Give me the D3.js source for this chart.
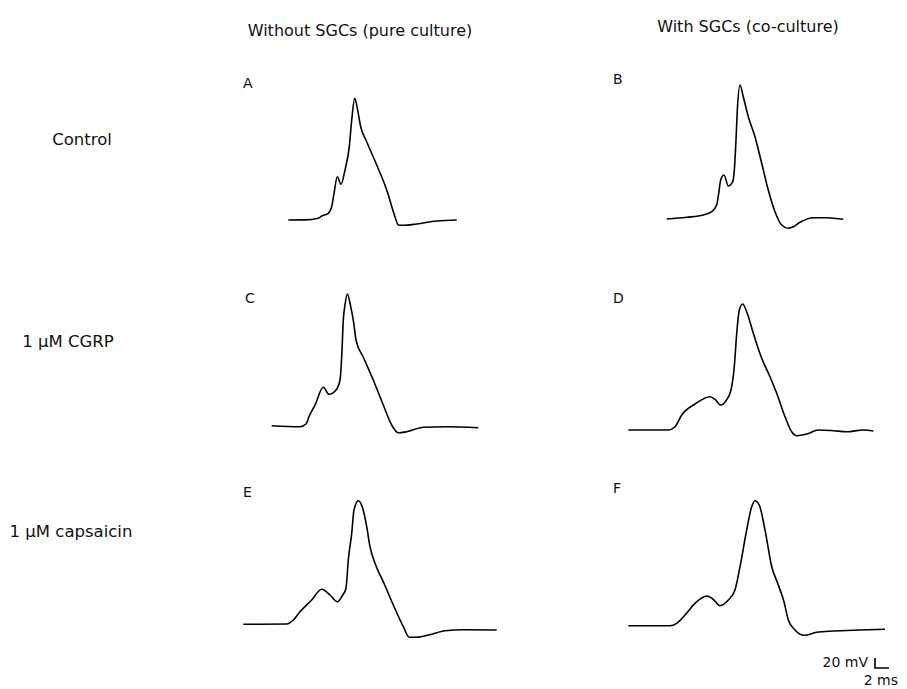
<!DOCTYPE html>
<html>
<head>
<meta charset="utf-8">
<script src="https://cdn.jsdelivr.net/npm/d3@7/dist/d3.min.js"></script>
<style>
  html, body { margin: 0; padding: 0; background: #fff; }
  svg text { font-family: "DejaVu Sans", "Noto Sans", sans-serif; fill: #111; }
</style>
</head>
<body>
<svg id="chart" width="907" height="689"></svg>
<script>
// Action potential traces: [time (ms), deflection from rest (mV)]
const traceA = [[0,0],[2.4,0.2],[4.29,3.4],[4.77,8],[5.71,13.4],[6.2,26.6],[6.53,53.4],[7.0,86.6],[7.53,71.4],[8.1,100],[8.71,146.6],[9.06,200],[9.49,243.4],[9.86,223.4],[10.34,186.6],[11.2,156.6],[12.63,110],[14.06,60],[15.24,6.6],[15.71,-10],[16.43,-10.6],[18.34,-8],[21.2,-2],[24.06,0]];
const traceB = [[0,0],[2.86,3.4],[5.23,8],[6.43,14.6],[7.14,28],[7.43,51.4],[7.71,78],[8.19,88],[8.8,66],[9.43,74.6],[9.66,98],[9.9,158],[10.09,218],[10.47,268],[10.94,244.6],[11.66,204.6],[12.61,164.6],[13.57,111.4],[14.51,58],[15.47,14.6],[16.43,-12],[17.37,-18.6],[18.09,-15.4],[19.04,-6.6],[20.94,2.6],[22.86,2.6],[25.23,-0.6]];
const traceC = [[0,0.6],[4.04,-1.4],[4.9,4],[5.37,20],[6.19,42],[7.37,77.4],[8.19,63.4],[9.19,72],[9.76,92],[10.0,138.6],[10.23,212],[10.47,242],[10.8,264],[11.29,238.6],[11.76,202],[12.04,172],[13.09,137.4],[14.51,92],[15.94,42],[17.14,2],[18.09,-13.4],[19.29,-11.4],[21.66,-2.6],[25.0,-1.4],[29.51,-3.4]];
const traceD = [[0,0],[5.71,0],[6.67,6.6],[7.63,30],[9.53,52],[11.67,66.6],[12.39,61.4],[13.2,50],[13.96,58.6],[14.67,80],[15.14,126.6],[15.49,193.4],[15.86,240],[16.34,252],[16.91,236.6],[17.86,193.4],[19.06,143.4],[20.24,106.6],[21.2,73.4],[22.39,26.6],[23.34,-3.4],[24.14,-11.4],[25.49,-8],[27.14,0],[29.29,-1.4],[31.2,-3.4],[33.57,0],[35.0,-2]];
const traceE = [[0,-0.6],[6.2,0],[7.14,8],[8.1,24.6],[9.77,48],[11.2,69.4],[12.39,58],[13.43,44.6],[14.2,58],[14.67,71.4],[15.0,128],[15.49,181.4],[15.81,228],[16.43,246.6],[17.06,231.4],[17.63,194.6],[18.1,154.6],[18.91,118],[20.1,81.4],[21.43,38],[22.86,-5.4],[23.71,-26.6],[24.77,-26.6],[26.67,-21.4],[28.81,-13.4],[31.43,-11.4],[36.2,-12]];
const traceF = [[0,0],[5.96,0],[6.91,4.8],[8.1,21.4],[9.53,44.8],[11.2,59.4],[12.14,52.8],[13.1,40],[14.29,51.4],[15.24,71.4],[15.96,118],[16.91,191.4],[17.63,238],[18.1,250],[18.71,241.4],[19.53,191.4],[20.49,118],[21.43,81.4],[22.24,48],[22.86,11.4],[23.81,-8.6],[25.14,-19.2],[26.91,-13.2],[29.29,-10.6],[33.1,-8.6],[36.67,-7.2]];

const panelLabels = ["A", "B", "C", "D", "E", "F"];
const columnTitles = ["Without SGCs (pure culture)", "With SGCs (co-culture)"];
const rowTitles = ["Control", "1 µM CGRP", "1 µM capsaicin"];
const scaleBarTime = 2;     // ms
const scaleBarVoltage = 20; // mV

// Shared scales: 7 px per ms, 0.5 px per mV (per-panel offsets via transforms)
const x = d3.scaleLinear().domain([0, 1]).range([0, 7]);
const y = d3.scaleLinear().domain([0, 1]).range([0, -0.5]);

const svg = d3.select("#chart");

// Panel placement: origin of each trace (start of baseline) and label anchor
const panels = [
  { data: traceA, ox: 288.3, oy: 220,   lx: 243, ly: 88 },
  { data: traceB, ox: 666.7, oy: 219,   lx: 613, ly: 84 },
  { data: traceC, ox: 271.7, oy: 426,   lx: 245, ly: 303 },
  { data: traceD, ox: 628.3, oy: 430,   lx: 613, ly: 303 },
  { data: traceE, ox: 243.3, oy: 624,   lx: 243, ly: 497 },
  { data: traceF, ox: 628.3, oy: 625.7, lx: 613, ly: 493 }
];

const line = d3.line()
  .x(d => x(d[0]))
  .y(d => y(d[1]))
  .curve(d3.curveMonotoneX);

panels.forEach((p, i) => {
  const g = svg.append("g").attr("transform", `translate(${p.ox},${p.oy})`);
  g.append("path")
    .attr("d", line(p.data))
    .attr("fill", "none")
    .attr("stroke", "#000")
    .attr("stroke-width", 1.6)
    .attr("stroke-linejoin", "round");
  svg.append("text")
    .attr("x", p.lx).attr("y", p.ly)
    .attr("font-size", 14)
    .text(panelLabels[i]);
});

// Column headings
const colX = [360, 748], colY = [36, 32];
columnTitles.forEach((t, i) => {
  svg.append("text")
    .attr("x", colX[i]).attr("y", colY[i])
    .attr("text-anchor", "middle")
    .attr("font-size", 16)
    .text(t);
});

// Row headings
const rowX = [82, 68, 71], rowY = [145, 347, 537];
rowTitles.forEach((t, i) => {
  svg.append("text")
    .attr("x", rowX[i]).attr("y", rowY[i])
    .attr("text-anchor", "middle")
    .attr("font-size", 16.5)
    .text(t);
});

// Scale bar (L-shape): vertical = voltage, horizontal = time
const sb = svg.append("g").attr("transform", "translate(875,668)");
sb.append("path")
  .attr("d", `M0,${y(scaleBarVoltage)}L0,0L${x(scaleBarTime)},0`)
  .attr("fill", "none")
  .attr("stroke", "#000")
  .attr("stroke-width", 1.6);
svg.append("text")
  .attr("x", 868).attr("y", 667)
  .attr("text-anchor", "end")
  .attr("font-size", 14)
  .text(`${scaleBarVoltage} mV`);
svg.append("text")
  .attr("x", 898).attr("y", 685)
  .attr("text-anchor", "end")
  .attr("font-size", 14)
  .text(`${scaleBarTime} ms`);
</script>
</body>
</html>
